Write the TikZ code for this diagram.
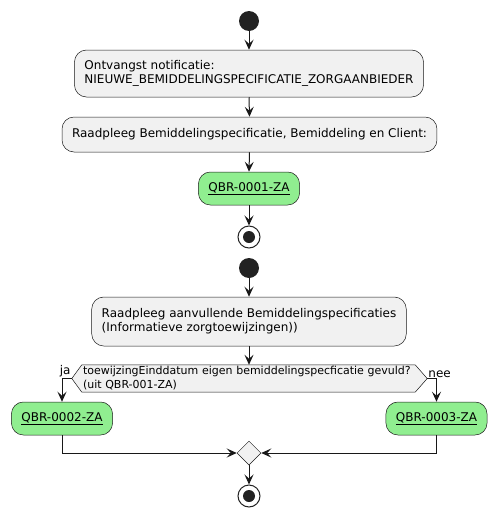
\documentclass[tikz,border=0pt]{standalone}
\usepackage{fontspec}
\setmainfont{DejaVu Sans}
\usetikzlibrary{arrows.meta,calc,shapes.geometric,backgrounds}
\definecolor{actfill}{HTML}{F1F1F1}
\definecolor{lijn}{HTML}{181818}
\definecolor{qbrgroen}{HTML}{90EE90}
\definecolor{bol}{HTML}{222222}

\begin{document}
\begin{tikzpicture}[x=1pt, y=-1pt, font=\fontsize{12}{14}\selectfont,
		activiteit/.style={draw=lijn, line width=0.5pt, fill=actfill, rounded corners=12pt, align=left, inner xsep=10pt, inner ysep=0pt},
		regel/.style={draw=lijn, line width=0.5pt, fill=qbrgroen, rounded corners=12pt, inner xsep=10pt, inner ysep=0pt, minimum height=33pt},
		pijl/.style={draw=lijn, line width=1pt, -{Stealth[length=10pt, width=9pt, inset=4pt]}},
		beginbol/.style={circle, fill=bol, minimum size=20pt, inner sep=0pt},
		eindbol/.style={circle, draw=bol, fill=white, line width=1pt, minimum size=22pt, inner sep=0pt,
			path picture={\fill[bol] (path picture bounding box.center) circle (6pt);}}]
		\useasboundingbox (0,0) rectangle (497,517);

		% eerste stroom
		\node[beginbol] (start1) at (249,21) {};
		\node[activiteit, minimum height=47pt] (notif) at (249,73.5) {Ontvangst notificatie:\\NIEUWE\_BEMIDDELINGSPECIFICATIE\_ZORGAANBIEDER};
		\node[activiteit, minimum height=35pt] (raadpleeg) at (249.5,134.5) {Raadpleeg Bemiddelingspecificatie, Bemiddeling en Client:};
		\node[regel] (qbr1) at (249,188.5) {\underline{QBR-0001-ZA}};
		\node[eindbol] (stop1) at (249,237) {};
		\draw[pijl] (start1.south) -- (notif.north);
		\draw[pijl] (notif.south) -- (raadpleeg.north);
		\draw[pijl] (raadpleeg.south) -- (qbr1.north);
		\draw[pijl] (qbr1.south) -- (stop1.north);

		% tweede stroom
		\node[beginbol] (start2) at (249,268) {};
		\node[activiteit, minimum height=49pt] (aanvul) at (249,321.5) {Raadpleeg aanvullende Bemiddelingspecificaties\\(Informatieve zorgtoewijzingen))};
		\node[font=\fontsize{11}{14}\selectfont, align=left, inner xsep=1pt, inner ysep=0pt, minimum width=333pt, minimum height=27pt, text width=331pt] (keuze) at (248.5,378.5) {toewijzingEinddatum eigen bemiddelingspecficatie gevuld?\\(uit QBR-001-ZA)};
		\coordinate (keuzeL) at ($(keuze.west)+(-10,0)$);
		\coordinate (keuzeR) at ($(keuze.east)+(12,0)$);
		\begin{scope}[on background layer]
			\draw[draw=lijn, line width=0.5pt, fill=actfill] (keuze.north west) -- (keuze.north east) -- (keuzeR) -- (keuze.south east) -- (keuze.south west) -- (keuzeL) -- cycle;
		\end{scope}
		\node[anchor=south east, inner xsep=1pt, inner ysep=1pt] (ja) at (keuzeL) {ja};
		\node[anchor=south west, inner xsep=1pt, inner ysep=1pt] (nee) at (keuzeR) {nee};
		\node[regel] (qbr2) at (62,418.5) {\underline{QBR-0002-ZA}};
		\node[regel] (qbr3) at (436.5,418.5) {\underline{QBR-0003-ZA}};
		\node[diamond, draw=lijn, line width=0.5pt, fill=actfill, minimum width=24pt, minimum height=24pt, inner sep=0pt] (samen) at (249,453) {};
		\node[eindbol] (stop2) at (249,496) {};
		\draw[pijl] (start2.south) -- (aanvul.north);
		\draw[pijl] (aanvul.south) -- (keuze.north -| aanvul.south);
		\draw[pijl] (keuzeL) -| (qbr2.north);
		\draw[pijl] (keuzeR) -| (qbr3.north);
		\draw[pijl] (qbr2.south) |- (samen.west);
		\draw[pijl] (qbr3.south) |- (samen.east);
		\draw[pijl] (samen.south) -- (stop2.north);
	\end{tikzpicture}
\end{document}
